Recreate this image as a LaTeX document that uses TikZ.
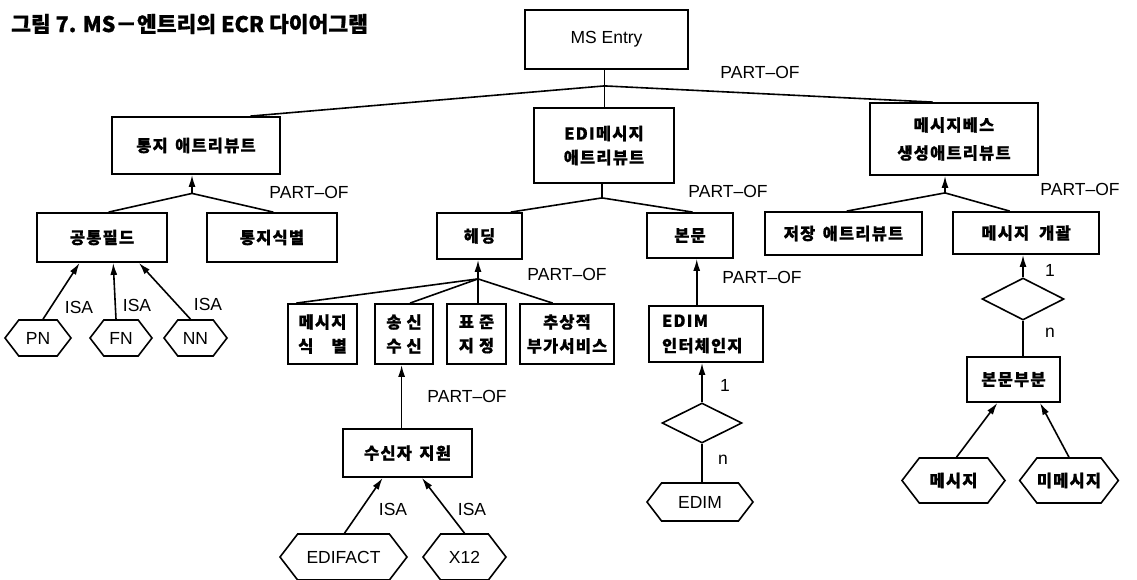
\documentclass[tikz,border=0pt]{standalone}
\usepackage{fontspec}
\setmainfont{Liberation Sans}
\newfontfamily\kr{Noto Sans CJK KR}[LetterSpace=7,BoldFeatures={FakeBold=0.6}]
\newfontfamily\krt{Noto Sans CJK KR}[BoldFeatures={FakeBold=0.8}]
\usetikzlibrary{shapes.geometric,shapes.symbols,arrows.meta,calc}
\tikzset{
  box/.style={draw, line width=1.8pt, inner sep=0pt, align=center},
  kbox/.style={box, font=\kr\bfseries\fontsize{16.5}{24}\selectfont},
  lbox/.style={box, font=\fontsize{17.5}{22}\selectfont},
  hexa/.style={draw, signal, signal to=west and east, signal pointer angle=105, line width=1.6pt, inner sep=0pt, font=\fontsize{17.5}{20}\selectfont},
  khexa/.style={hexa, font=\kr\bfseries\fontsize{16.5}{20}\selectfont},
  rel/.style={draw, diamond, line width=1.6pt, inner sep=0pt},
  conn/.style={line width=1.6pt},
  arr/.style={line width=1.6pt, -{Latex[length=12pt,width=7pt]}},
  lbl/.style={font=\fontsize{17.5}{20}\selectfont, inner sep=0pt},
}
\begin{document}
\begin{tikzpicture}[x=1pt,y=-1pt]
\useasboundingbox[fill=white] (0,0) rectangle (1137,579);
% title
\node[anchor=west, inner sep=0pt, font=\krt\bfseries\fontsize{21.5}{24}\selectfont] (title) at (11,24) {그림 7. MS－엔트리의 ECR 다이어그램};

% level 0
\node[lbox, minimum width=163, minimum height=59] (ms) at (606.5,39.5) {MS Entry};
% level 1
\node[kbox, minimum width=168, minimum height=57] (tongji) at (196,145.5) {통지\hspace{0.45em}애트리뷰트};
\node[kbox, minimum width=140, minimum height=75] (edi) at (604,145.5) {EDI메시지\\애트리뷰트};
\node[kbox, minimum width=168, minimum height=72, font=\kr\bfseries\fontsize{16.5}{28}\selectfont] (mb) at (954,139) {메시지베스\\생성애트리뷰트};
% level 2
\node[kbox, minimum width=130, minimum height=49] (gt) at (102,237.5) {공통필드};
\node[kbox, minimum width=130, minimum height=49] (tid) at (272,237.5) {통지식별};
\node[kbox, minimum width=85, minimum height=46] (hd) at (479.5,236) {헤딩};
\node[kbox, minimum width=86, minimum height=45] (bm) at (690,235.5) {본문};
\node[kbox, minimum width=157, minimum height=43] (jj) at (843.5,233.5) {저장\hspace{0.45em}애트리뷰트};
\node[kbox, minimum width=146, minimum height=42] (mg) at (1026,233) {메시지\hspace{0.6em}개괄};
% level 3
\node[kbox, minimum width=69, minimum height=60] (b1) at (322.5,334) {메시지\\식\hspace{1.1em}별};
\node[kbox, minimum width=58, minimum height=60] (b2) at (404,334) {송\hspace{0.3em}신\\수\hspace{0.3em}신};
\node[kbox, minimum width=59, minimum height=60] (b3) at (476.5,334) {표\hspace{0.3em}준\\지\hspace{0.3em}정};
\node[kbox, minimum width=94, minimum height=60] (b4) at (567,334) {추상적\\부가서비스};
\node[box, minimum width=114, minimum height=56, text width=88pt, inner xsep=13pt, align=left, font=\kr\bfseries\fontsize{16.5}{25}\selectfont] (edim) at (706,334) {EDIM\\인터체인지};
\node[kbox, minimum width=129, minimum height=48] (rs) at (407.5,453) {수신자\hspace{0.45em}지원};
\node[kbox, minimum width=93, minimum height=45] (bb) at (1013.5,379.5) {본문부분};
% relationships
\node[rel, minimum width=80, minimum height=40] (d1) at (702,423) {};
\node[rel, minimum width=82, minimum height=42] (d2) at (1023,299) {};
% hexagons
\node[hexa, minimum width=66, minimum height=36] (pn) at (38,338) {PN};
\node[hexa, minimum width=62, minimum height=36] (fn) at (121,338) {FN};
\node[hexa, minimum width=63, minimum height=36] (nn) at (195.5,338) {NN};
\node[hexa, minimum width=127, minimum height=46] (edifact) at (343.5,557) {EDIFACT};
\node[hexa, minimum width=83, minimum height=46] (x12) at (464.5,557) {X12};
\node[hexa, minimum width=106, minimum height=38] (edimh) at (700,502) {EDIM};
\node[khexa, minimum width=103, minimum height=45] (msg) at (953.5,480.5) {메시지};
\node[khexa, minimum width=98, minimum height=45] (nmsg) at (1069,480.5) {미메시지};

% junctions
\coordinate (j0) at ($(ms.south)+(-2,16)$);
\coordinate (j1) at ($(tongji.south)+(-4,18.5)$);
\coordinate (j2) at ($(edi.south)+(-2,14)$);
\coordinate (j3) at ($(hd.south)+(-1.5,19)$);
\coordinate (j4) at ($(mb.south)+(-9,17)$);

% MS Entry tree
\draw[conn] (ms.south -| j0) -- (j0);
\draw[conn] (j0) -- ($(tongji.north west)!0.82!(tongji.north east)$);
\draw[conn] (j0) -- (edi.north -| j0);
\draw[conn] (j0) -- ($(mb.north west)!0.375!(mb.north east)$);
\node[lbl] (po0) at (760,72) {PART–OF};

% 통지 애트리뷰트
\draw[arr] (j1) -- (tongji.south -| j1);
\draw[conn] (j1) -- ($(gt.north west)!0.55!(gt.north east)$);
\draw[conn] (j1) -- ($(tid.north west)!0.51!(tid.north east)$);
\node[lbl] (po1) at (309,192) {PART–OF};
\draw[arr] ([xshift=5pt]pn.north) -- ($(gt.south west)!0.33!(gt.south east)$);
\draw[arr] ([xshift=-5pt]fn.north) -- ($(gt.south west)!0.585!(gt.south east)$);
\draw[arr] ([xshift=-5pt]nn.north) -- ($(gt.south west)!0.78!(gt.south east)$);
\node[lbl] (isa1) at (79,307) {ISA};
\node[lbl] (isa2) at (137,305) {ISA};
\node[lbl] (isa3) at (208,304) {ISA};

% EDI 메시지 애트리뷰트
\draw[conn] (edi.south -| j2) -- (j2);
\draw[conn] (j2) -- ($(hd.north west)!0.86!(hd.north east)$);
\draw[conn] (j2) -- ($(bm.north west)!0.53!(bm.north east)$);
\node[lbl] (po2) at (728,191) {PART–OF};

% 헤딩
\draw[arr] (j3) -- (hd.south -| j3);
\draw[conn] (j3) -- ($(b1.north west)!0.13!(b1.north east)$);
\draw[conn] (j3) -- ($(b2.north west)!0.6!(b2.north east)$);
\draw[conn] (j3) -- (b3.north -| j3);
\draw[conn] (j3) -- ($(b4.north west)!0.35!(b4.north east)$);
\node[lbl] (po3) at (567,274) {PART–OF};

% 본문
\coordinate (e1) at ($(edim.north west)!0.42!(edim.north east)$);
\draw[arr] (e1) -- (bm.south -| e1);
\node[lbl] (po4) at (762,277) {PART–OF};
\draw[arr] (d1.north) -- (edim.south -| d1.north);
\draw[conn] (d1.south) -- (edimh.north -| d1.south);
\node[lbl] (one1) at (725,385) {1};
\node[lbl] (n1) at (723,460) {n};

% 송신 수신
\coordinate (r1) at ($(rs.north west)!0.455!(rs.north east)$);
\draw[arr] (r1) -- (b2.south -| r1);
\node[lbl] (po5) at (467,396) {PART–OF};
\draw[arr] ([xshift=1pt]edifact.north) -- ($(rs.south west)!0.31!(rs.south east)$);
\draw[arr] (x12.north) -- ($(rs.south west)!0.61!(rs.south east)$);
\node[lbl] (isa4) at (393,509) {ISA};
\node[lbl] (isa5) at (472,509) {ISA};

% 메시지베스 생성애트리뷰트
\draw[arr] (j4) -- (mb.south -| j4);
\draw[conn] (j4) -- ($(jj.north west)!0.52!(jj.north east)$);
\draw[conn] (j4) -- ($(mg.north west)!0.39!(mg.north east)$);
\node[lbl] (po6) at (1080,189) {PART–OF};
\draw[arr] (d2.north) -- (mg.south -| d2.north);
\node[lbl] (one2) at (1050,270) {1};
\draw[conn] (d2.south) -- (bb.north -| d2.south);
\node[lbl] (n2) at (1050,333) {n};
\draw[arr] ([xshift=3pt]msg.north) -- ($(bb.south west)!0.33!(bb.south east)$);
\draw[arr] (nmsg.north) -- ($(bb.south west)!0.78!(bb.south east)$);
\end{tikzpicture}
\end{document}
